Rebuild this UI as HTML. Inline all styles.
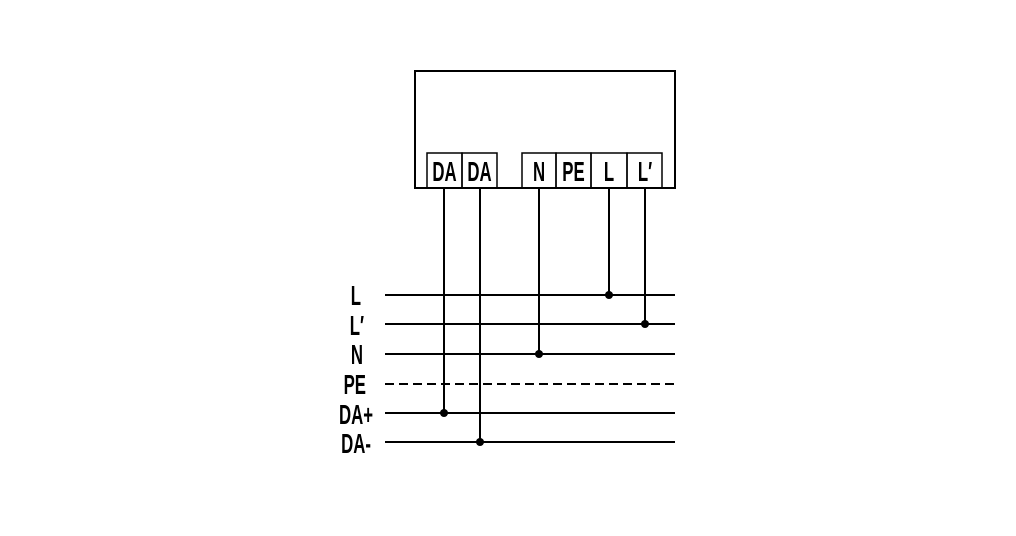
<!DOCTYPE html>
<html><head><style>html,body{margin:0;padding:0;background:#fff}</style></head><body>
<svg width="1016" height="531" xmlns="http://www.w3.org/2000/svg">
<g fill="none" stroke="#000" stroke-width="2">
<rect x="415" y="71" width="260" height="117"/>
<g stroke-width="1.5">
<rect x="427" y="153" width="35" height="35"/>
<rect x="462" y="153" width="35" height="35"/>
<rect x="522" y="153" width="34" height="35"/>
<rect x="556" y="153" width="35" height="35"/>
<rect x="591" y="153" width="36" height="35"/>
<rect x="627" y="153" width="35" height="35"/>
</g>
<line x1="444" y1="188" x2="444" y2="413"/>
<line x1="480" y1="188" x2="480" y2="442"/>
<line x1="539" y1="188" x2="539" y2="354"/>
<line x1="609" y1="188" x2="609" y2="295"/>
<line x1="645" y1="188" x2="645" y2="324"/>
<line x1="385" y1="295" x2="675" y2="295"/>
<line x1="385" y1="324" x2="675" y2="324"/>
<line x1="385" y1="354" x2="675" y2="354"/>
<line x1="385" y1="384" x2="675" y2="384" stroke-dasharray="9,5"/>
<line x1="385" y1="413" x2="675" y2="413"/>
<line x1="385" y1="442" x2="675" y2="442"/>
</g>
<g fill="#000">
<circle cx="609" cy="295" r="4"/><circle cx="645" cy="324" r="4"/><circle cx="539" cy="354" r="4"/>
<circle cx="444" cy="413" r="4"/><circle cx="480" cy="442" r="4"/>
</g>
<g font-family="Liberation Sans, sans-serif" font-weight="bold" font-size="28" text-anchor="middle">
<text transform="translate(444.5,181) scale(0.6,1)">DA</text>
<text transform="translate(479.5,181) scale(0.6,1)">DA</text>
<text transform="translate(539,181) scale(0.6,1)">N</text>
<text transform="translate(573.5,181) scale(0.6,1)">PE</text>
<text transform="translate(609,181) scale(0.6,1)">L</text>
<text transform="translate(645,181) scale(0.6,1)">L′</text>
<g text-anchor="end">
<text transform="translate(361,305) scale(0.6,1)">L</text>
<text transform="translate(364,335) scale(0.6,1)">L′</text>
<text transform="translate(363,364) scale(0.6,1)">N</text>
<text transform="translate(366,394) scale(0.6,1)">PE</text>
<text transform="translate(373,424) scale(0.6,1)">DA+</text>
<text transform="translate(371,453) scale(0.6,1)">DA-</text>
</g>
</g>
</svg>
</body></html>
